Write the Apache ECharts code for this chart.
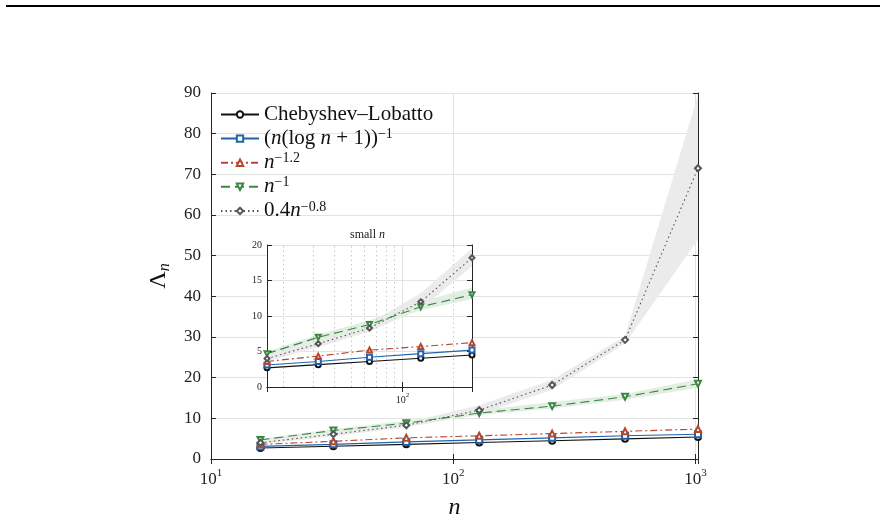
<!DOCTYPE html>
<html>
<head>
<meta charset="utf-8">
<script src="https://cdn.jsdelivr.net/npm/echarts@6/dist/echarts.min.js"></script>
<style>
  html, body { margin: 0; padding: 0; background: #fff; }
  #chart { width: 886px; height: 525px; }
</style>
</head>
<body>
<div id="chart"></div>
<script>
// polynomial degree n (log axis)
var nVals = [16, 32, 64, 128, 256, 512, 1024];

// Lebesgue constants per weighting
var chebLobatto = [2.7, 3.15, 3.6, 4.05, 4.5, 4.95, 5.4];
var logWeight   = [3.1, 3.6, 4.2, 4.7, 5.2, 5.7, 6.1];
var pow12       = [3.6, 4.35, 5.2, 5.7, 6.25, 6.8, 7.35];
var pow1        = [4.7, 7.0, 8.8, 11.3, 13.0, 15.3, 18.5];
var pow08       = [4.0, 6.1, 8.3, 12.0, 18.2, 29.3, 71.5];

// spread bands
var pow1Lo  = [4.4, 6.6, 8.4, 10.8, 12.4, 14.6, 17.5];
var pow1Hi  = [5.0, 7.4, 9.4, 12.0, 14.0, 16.0, 19.6];
var pow08Lo = [3.6, 5.6, 7.8, 11.0, 17.0, 28.4, 54.0];
var pow08Hi = [4.4, 6.6, 9.0, 13.2, 19.5, 30.2, 89.5];

var yTicksMain = [0, 90, 10];
var yTicksInset = [0, 20, 5];
var insetNMax = 256;
var insetMinorX = [20, 30, 40, 50, 60, 70, 80, 90, 200];

var serif = '"Liberation Serif", "DejaVu Serif", serif';
var axisCol = '#262626';
var gridCol = '#e3e3e3';

var curves = [
  { name: 'Chebyshev–Lobatto', vals: chebLobatto, color: '#111111', symbol: 'emptyCircle', rot: 0, type: 'solid',
    label: '{r|Chebyshev–Lobatto}' },
  { name: '(n(log n + 1))^-1', vals: logWeight, color: '#1f63ad', symbol: 'emptyRect', rot: 0, type: 'solid',
    label: '{r|(}{i|n}{r|(log }{i|n}{r| + 1))}{s|−1}' },
  { name: 'n^-1.2', vals: pow12, color: '#b5472f', symbol: 'emptyTriangle', rot: 0, type: [7, 3, 2, 3],
    label: '{i|n}{s|−1.2}' },
  { name: 'n^-1', vals: pow1, color: '#3c8645', symbol: 'emptyTriangle', rot: 180, type: [9, 5],
    label: '{i|n}{s|−1}' },
  { name: '0.4n^-0.8', vals: pow08, color: '#555555', symbol: 'emptyDiamond', rot: 0, type: [1.5, 3],
    label: '{r|0.4}{i|n}{s|−0.8}' }
];

function pairs(vals, upTo) {
  var out = [];
  for (var i = 0; i < nVals.length; i++) {
    if (nVals[i] <= upTo) out.push([nVals[i], vals[i]]);
  }
  return out;
}

function supLabel(size) {
  return function (v) {
    var p = Math.round(Math.log(v) / Math.LN10);
    if (Math.abs(Math.pow(10, p) - v) > 1e-6) return '';
    return '{b|10}{s|' + p + '}';
  };
}
function supRich(size) {
  return {
    b: { fontFamily: serif, fontSize: size, color: '#222', lineHeight: size + 6 },
    s: { fontFamily: serif, fontSize: Math.round(size * 0.65), color: '#222', lineHeight: Math.round(size * 0.65), verticalAlign: 'top' }
  };
}

function logAxis(gridIndex, pos, max, labels, size, z) {
  return {
    type: 'log', logBase: 10, gridIndex: gridIndex, position: pos,
    min: gridIndex === 0 ? 10 : 16, max: max, z: z,
    axisLine: { show: true, lineStyle: { color: axisCol, width: 1 } },
    axisTick: { show: true, inside: true, length: 5, lineStyle: { color: axisCol } },
    axisLabel: labels ? { show: true, margin: size === 17 ? 9 : 5, formatter: supLabel(size), rich: supRich(size) } : { show: false },
    splitLine: { show: labels, lineStyle: { color: gridCol, width: 1 } },
    minorTick: { show: false }
  };
}
function valAxis(gridIndex, pos, t, labels, size, z) {
  return {
    type: 'value', gridIndex: gridIndex, position: pos,
    min: t[0], max: t[1], interval: t[2], z: z,
    axisLine: { show: true, lineStyle: { color: axisCol, width: 1 } },
    axisTick: { show: true, inside: true, length: 5, lineStyle: { color: axisCol } },
    axisLabel: labels ? { show: true, margin: size === 17 ? 10 : 5, fontFamily: serif, fontSize: size, color: '#222' } : { show: false },
    splitLine: { show: labels, lineStyle: { color: gridCol, width: 1 } }
  };
}

var series = [];
// shaded spread between lo and hi, one polygon through the axis scales
function addBand(lo, hi, color, xi, yi, upTo, z) {
  var loPts = pairs(lo, upTo);
  var hiPts = pairs(hi, upTo);
  series.push({
    type: 'custom', xAxisIndex: xi, yAxisIndex: yi, silent: true, z: z,
    data: loPts.concat(hiPts),
    encode: { x: 0, y: 1 },
    clip: true,
    renderItem: function (params, api) {
      if (params.dataIndex !== 0) return null;
      var pts = [];
      loPts.forEach(function (p) { pts.push(api.coord(p)); });
      hiPts.slice().reverse().forEach(function (p) { pts.push(api.coord(p)); });
      return { type: 'polygon', shape: { points: pts }, style: { fill: color } };
    }
  });
}
addBand(pow08Lo, pow08Hi, '#ebebeb', 0, 0, 2000, 1);
addBand(pow1Lo, pow1Hi, '#e2eee2', 0, 0, 2000, 1);
addBand(pow08Lo, pow08Hi, '#ebebeb', 2, 2, insetNMax, 4);
addBand(pow1Lo, pow1Hi, '#e2eee2', 2, 2, insetNMax, 4);

// inset dotted minor grid
series.push({
  name: 'insetMinor', type: 'line', xAxisIndex: 2, yAxisIndex: 2, data: [], z: 4, silent: true,
  markLine: {
    silent: true, symbol: 'none', label: { show: false },
    lineStyle: { color: '#c8c8c8', type: [1.5, 3], width: 1 },
    data: insetMinorX.map(function (x) { return { xAxis: x }; })
  }
});

curves.forEach(function (c) {
  [[0, 0, 2000, 6, 2], [2, 2, insetNMax, 5, 5]].forEach(function (g) {
    series.push({
      name: c.name, type: 'line', xAxisIndex: g[0], yAxisIndex: g[1],
      data: pairs(c.vals, g[2]),
      symbol: c.symbol, symbolRotate: c.rot, symbolSize: g[3], showSymbol: true,
      color: c.color,
      itemStyle: { color: c.color, borderWidth: 1.1 },
      lineStyle: { color: c.color, width: 1.1, type: c.type },
      z: g[4]
    });
  });
});

var legendRich = {
  r: { fontFamily: serif, fontSize: 21, color: '#111', lineHeight: 22 },
  i: { fontFamily: serif, fontSize: 21, fontStyle: 'italic', color: '#111', lineHeight: 22 },
  s: { fontFamily: serif, fontSize: 14, color: '#111', lineHeight: 13, verticalAlign: 'top' }
};
var labelOf = {};
curves.forEach(function (c) { labelOf[c.name] = c.label; });

var chart = echarts.init(document.getElementById('chart'), null, { renderer: 'canvas' });
chart.setOption({
  animation: false,
  backgroundColor: '#fff',
  grid: [
    { left: 211, top: 93, width: 487, height: 366, containLabel: false },
    { left: 267, top: 245, width: 205, height: 142, containLabel: false,
      show: true, backgroundColor: '#fff', borderWidth: 0, z: 3 }
  ],
  xAxis: [
    Object.assign(logAxis(0, 'bottom', 1024, true, 17, 0), {
      name: 'n', nameLocation: 'middle', nameGap: 37,
      nameTextStyle: { fontFamily: serif, fontSize: 24, fontStyle: 'italic', color: '#111' }
    }),
    logAxis(0, 'top', 1024, false, 17, 0),
    logAxis(1, 'bottom', insetNMax, true, 10, 4),
    logAxis(1, 'top', insetNMax, false, 10, 4)
  ],
  yAxis: [
    Object.assign(valAxis(0, 'left', yTicksMain, true, 17, 0), {
      name: '{L|Λ}{n|n}', nameLocation: 'middle', nameGap: 38, nameRotate: 90,
      nameTextStyle: { rich: {
        L: { fontFamily: serif, fontSize: 24, color: '#111', lineHeight: 28 },
        n: { fontFamily: serif, fontSize: 16, fontStyle: 'italic', color: '#111', lineHeight: 14, verticalAlign: 'bottom' }
      } }
    }),
    valAxis(0, 'right', yTicksMain, false, 17, 0),
    valAxis(1, 'left', yTicksInset, true, 10, 4),
    valAxis(1, 'right', yTicksInset, false, 10, 4)
  ],
  legend: {
    data: curves.map(function (c) { return c.name; }),
    orient: 'vertical', left: 220, top: 104,
    itemWidth: 38, itemHeight: 8, itemGap: 2.6,
    padding: [0, 0, 0, 0],
    formatter: function (name) { return labelOf[name]; },
    textStyle: { rich: legendRich }
  },
  graphic: [
    { type: 'rect', left: 6, top: 5, shape: { width: 874, height: 2 }, style: { fill: '#000' } },
    { type: 'text', left: 350, top: 229, z: 10,
      style: { rich: {
        r: { fontFamily: serif, fontSize: 12, fill: '#222' },
        i: { fontFamily: serif, fontSize: 12, fontStyle: 'italic', fill: '#222' }
      }, text: '{r|small }{i|n}' } }
  ],
  series: series
});
</script>
</body>
</html>
